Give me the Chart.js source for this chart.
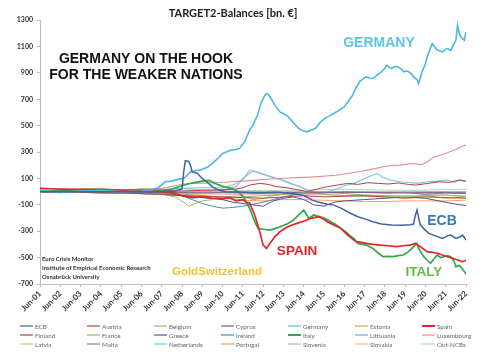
<!DOCTYPE html>
<html>
<head>
<meta charset="utf-8">
<script src="https://cdn.jsdelivr.net/npm/chart.js@4"></script>
<style>
html, body { margin: 0; padding: 0; background: #fff; }
</style>
</head>
<body>
<canvas id="myChart" width="485" height="360"></canvas>
<script>
// DONNEES : mois depuis Jun-01 (0 = Jun-01, 252 = Jun-22) et valeurs en mrd €

var yearM = [0, 12, 24, 36, 48, 60, 72, 84, 96, 108, 120, 132, 144, 156, 168, 180, 192, 204, 216, 228, 240, 252];

var germanyM = [0, 12, 24, 36, 48, 60, 66, 70, 74, 78, 82, 85, 89, 92, 95, 99, 102, 105, 108, 111, 113, 116, 118, 121, 124, 126, 129, 131, 133, 134, 135, 136, 139, 142, 145, 147, 150, 153, 155, 158, 161, 163, 166, 169, 172, 176, 180, 182, 185, 187, 189, 191, 193, 195, 197, 199, 202, 204, 205, 207, 208, 210, 212, 214, 215, 217, 218, 220, 221, 223, 224, 226, 228, 229, 231, 232, 234, 235, 237, 238, 240, 241, 243, 244, 246, 247, 248, 249, 251, 252];
var germanyV = [10, -5, 5, 10, 0, 5, 15, 30, 75, 80, 95, 100, 150, 160, 164, 185, 214, 250, 290, 305, 315, 320, 328, 378, 467, 505, 593, 681, 730, 745, 735, 719, 656, 605, 585, 567, 520, 480, 465, 454, 470, 480, 530, 560, 580, 610, 643, 680, 732, 790, 833, 855, 870, 862, 858, 880, 909, 935, 959, 940, 934, 950, 946, 925, 909, 915, 909, 890, 870, 850, 820, 909, 970, 1022, 1090, 1123, 1090, 1073, 1065, 1060, 1080, 1085, 1070, 1098, 1148, 1262, 1200, 1173, 1148, 1211];

var spainM = [0, 6, 12, 24, 36, 48, 60, 72, 78, 84, 90, 96, 102, 108, 112, 116, 120, 122, 124, 127, 130, 132, 134, 136, 139, 142, 146, 149, 152, 155, 158, 160, 163, 165, 168, 170, 174, 178, 182, 185, 187, 190, 193, 197, 201, 206, 211, 215, 219, 222, 225, 229, 232, 235, 238, 241, 244, 247, 250, 252];
var spainV = [25, 22, 20, 18, 15, 10, 5, 0, -10, -30, -45, -40, -50, -55, -45, -70, -60, -80, -85, -177, -303, -405, -430, -392, -340, -303, -270, -253, -240, -228, -215, -202, -195, -190, -210, -228, -255, -278, -329, -360, -379, -385, -392, -400, -405, -410, -417, -410, -405, -392, -417, -455, -460, -467, -480, -493, -505, -518, -531, -520];

var italyM = [0, 12, 24, 36, 48, 60, 72, 78, 84, 88, 92, 96, 100, 104, 108, 112, 116, 119, 121, 124, 127, 129, 132, 136, 139, 142, 147, 150, 152, 154, 156, 159, 162, 164, 166, 169, 172, 175, 178, 181, 183, 186, 188, 193, 197, 200, 203, 206, 209, 212, 215, 218, 220, 223, 224, 227, 229, 231, 233, 235, 237, 239, 241, 243, 245, 246, 248, 249, 250, 251, 252];
var italyV = [10, 5, 15, 20, 10, 15, 10, 20, 45, 60, 70, 80, 85, 60, 40, 30, 10, -20, -51, -127, -228, -278, -285, -291, -280, -266, -240, -215, -190, -165, -139, -202, -177, -185, -190, -205, -228, -250, -278, -305, -329, -360, -392, -405, -430, -465, -493, -490, -493, -485, -480, -455, -430, -392, -430, -493, -520, -543, -510, -480, -500, -493, -485, -493, -530, -569, -560, -569, -590, -605, -625];

var ecbM = [0, 24, 48, 72, 80, 84, 85, 86, 88, 89, 90, 93, 96, 99, 102, 106, 110, 120, 130, 140, 150, 155, 158, 161, 165, 170, 174, 178, 183, 188, 193, 197, 202, 208, 214, 219, 221, 222, 223, 224, 225, 227, 230, 234, 238, 241, 243, 246, 249, 250, 252];
var ecbV = [0, 0, 0, 0, 5, 20, 150, 235, 230, 200, 150, 140, 100, 70, 37, 10, 0, -5, -10, -5, -15, -25, -40, -64, -80, -95, -102, -125, -160, -190, -210, -228, -245, -253, -255, -250, -245, -180, -139, -200, -253, -280, -316, -335, -354, -335, -329, -354, -340, -329, -367];

var netherlandsM = [0, 24, 48, 72, 84, 96, 108, 116, 120, 124, 126, 128, 132, 136, 142, 148, 154, 158, 162, 166, 170, 174, 180, 186, 192, 196, 199, 203, 207, 213, 219, 223, 229, 235, 241, 245, 248, 252];
var netherlandsV = [5, 10, 10, 15, 25, 30, 30, 60, 100, 140, 155, 150, 130, 113, 90, 63, 35, 12, -10, -13, 0, 12, 45, 63, 100, 120, 139, 110, 88, 75, 70, 63, 75, 80, 88, 70, 90, 75];

var luxembourgM = [0, 24, 48, 72, 80, 86, 96, 106, 120, 140, 160, 175, 183, 190, 198, 205, 213, 220, 226, 229, 233, 238, 242, 246, 250, 252];
var luxembourgV = [5, 10, 15, 25, 45, 60, 65, 70, 80, 100, 110, 125, 140, 155, 175, 195, 201, 214, 205, 225, 264, 280, 300, 320, 345, 353];

var finlandM = [0, 12, 24, 36, 48, 60, 72, 84, 96, 108, 116, 120, 124, 130, 135, 140, 146, 152, 158, 164, 170, 176, 182, 188, 194, 200, 206, 212, 218, 222, 228, 236, 242, 248, 252];
var finlandV = [0, 5, 0, 5, 10, 5, 10, 5, 10, 15, 20, 30, 50, 63, 55, 38, 30, 15, 0, 20, 38, 50, 63, 55, 68, 63, 58, 66, 55, 50, 60, 75, 70, 88, 80];

var belgiumM = [0, 12, 24, 36, 48, 60, 72, 80, 85, 88, 92, 96, 102, 108, 114, 120, 132, 144, 156, 168, 180, 192, 204, 216, 228, 240, 252];
var belgiumV = [0, -3, -5, -8, -10, -15, -20, -40, -80, -110, -90, -70, -60, -40, -50, -40, -30, -20, -10, -20, -30, -35, -40, -45, -30, -50, -40];

var franceM = [0, 12, 24, 36, 48, 60, 72, 84, 96, 108, 120, 126, 132, 138, 144, 156, 168, 180, 192, 204, 216, 228, 240, 252];
var franceV = [5, 0, -5, -5, -10, -10, -15, -20, -30, -40, -30, -60, -50, -30, -20, -10, -5, -15, -25, -30, -40, -30, -25, -40];

var greeceM = [0, 12, 24, 36, 48, 60, 72, 84, 96, 108, 114, 120, 126, 132, 138, 144, 150, 156, 162, 168, 174, 180, 192, 204, 216, 228, 240, 246, 252];
var greeceV = [0, -5, -5, -10, -10, -15, -20, -30, -45, -60, -80, -90, -100, -110, -70, -50, -40, -60, -100, -110, -80, -70, -60, -50, -40, -50, -80, -95, -105];

var irelandM = [0, 12, 24, 36, 48, 60, 72, 84, 90, 96, 102, 108, 114, 120, 126, 132, 138, 144, 150, 156, 168, 180, 192, 204, 216, 228, 240, 252];
var irelandV = [0, -2, 0, -5, -5, -10, -10, -30, -60, -90, -110, -125, -120, -110, -95, -80, -60, -40, -25, -15, -10, 0, -5, -10, -5, -20, -10, -15];

var sloveniaM = [0, 24, 48, 72, 96, 108, 116, 120, 124, 128, 134, 139, 144, 149, 154, 160, 168, 180, 192, 204, 216, 228, 240, 252];
var sloveniaV = [0, -2, -3, -5, 0, 10, 40, 90, 164, 150, 126, 105, 88, 60, 38, 0, -5, -5, -5, -8, -5, -10, -5, -8];

var austriaV = [5, 0, -5, -8, -10, -15, -20, -30, -35, -40, -45, -50, -40, -30, -40, -35, -30, -40, -50, -40, -45, -50];
var cyprusV = [0, 0, -2, -3, -5, -5, -5, -8, -10, -8, -10, -12, -8, -5, -5, -8, -6, -8, -10, -8, -8, -10];
var estoniaV = [0, 0, -2, -2, -3, -3, -4, -5, -5, -4, -3, -2, -3, -4, -5, -4, -3, -4, -5, -4, -3, -4];
var lithuaniaV = [0, -1, -2, -3, -4, -5, -6, -8, -8, -6, -5, -4, -5, -6, -8, -6, -4, -5, -6, -5, -4, -5];
var latviaV = [0, 0, -1, -2, -3, -4, -5, -6, -6, -5, -4, -4, -5, -6, -6, -5, -4, -5, -6, -5, -4, -4];
var maltaV = [0, 0, 0, -1, -2, -2, -3, -4, -4, -3, -3, -2, -3, -4, -3, -2, -3, -4, -3, -2, -3, -3];
var portugalV = [0, -2, -3, -5, -5, -10, -15, -20, -30, -50, -65, -70, -60, -60, -65, -70, -75, -75, -70, -70, -70, -65];
var slovakiaV = [0, -2, -4, -6, -8, -10, -12, -15, -18, -20, -22, -25, -22, -20, -25, -28, -30, -28, -30, -25, -28, -30];
var outNcbV = [10, 10, 12, 12, 15, 15, 18, 20, 15, 12, 10, 8, 10, 12, 15, 18, 15, 12, 10, 12, 15, 18];

function pts(m, v) {
    var out = [];
    for (var i = 0; i < m.length; i++) {
        out.push({ x: m[i], y: v[i] });
    }
    return out;
}

function serie(label, color, data, width, order) {
    return {
        label: label,
        data: data,
        borderColor: color,
        backgroundColor: color,
        borderWidth: width,
        pointRadius: 0,
        tension: 0,
        order: order
    };
}

// TEXTES SUR LE GRAPHIQUE

var notesPlugin = {
    id: 'notes',
    afterDatasetsDraw: function(chart) {
        var ctx = chart.ctx;
        ctx.save();
        ctx.textAlign = 'center';
        ctx.textBaseline = 'middle';
        ctx.fillStyle = '#111';
        ctx.font = 'bold 14px "Liberation Sans", Arial, sans-serif';
        ctx.fillText('GERMANY ON THE HOOK', 146, 59);
        ctx.fillText('FOR THE WEAKER NATIONS', 146, 75);
        ctx.fillStyle = '#62c3e8';
        ctx.fillText('GERMANY', 379, 43);
        ctx.fillStyle = '#3a78b8';
        ctx.fillText('ECB', 442, 221);
        ctx.fillStyle = '#e4232b';
        ctx.font = 'bold 13.5px "Liberation Sans", Arial, sans-serif';
        ctx.fillText('SPAIN', 297, 251);
        ctx.fillStyle = '#62bb45';
        ctx.fillText('ITALY', 424, 272);
        ctx.fillStyle = '#f2c232';
        ctx.font = 'bold 11.5px "Liberation Sans", Arial, sans-serif';
        ctx.fillText('GoldSwitzerland', 217, 272);
        ctx.textAlign = 'left';
        ctx.fillStyle = '#333';
        ctx.font = 'bold 6px Lato, sans-serif';
        ctx.fillText('Euro Crisis Monitor', 42, 259);
        ctx.fillText('Institute of Empirical Economic Research', 42, 268);
        ctx.fillText('Osnabrück University', 42, 277);
        ctx.restore();
    }
};

// LEGENDE EN GRILLE 7 COLONNES

var gridLegend = {
    id: 'gridLegend',
    afterDraw: function(chart) {
        var ctx = chart.ctx;
        ctx.save();
        ctx.font = '6.3px Lato, sans-serif';
        ctx.textBaseline = 'middle';
        ctx.textAlign = 'left';
        chart.data.datasets.forEach(function(ds, i) {
            var x = 20 + (i % 7) * 67;
            var y = 326 + Math.floor(i / 7) * 9;
            ctx.strokeStyle = ds.borderColor;
            ctx.lineWidth = ds.label == 'Spain' || ds.label == 'Italy' ? 2 : 1.2;
            ctx.beginPath();
            ctx.moveTo(x, y);
            ctx.lineTo(x + 13, y);
            ctx.stroke();
            ctx.fillStyle = '#666';
            ctx.fillText(ds.label, x + 15, y + 0.5);
        });
        ctx.restore();
    }
};

new Chart(document.getElementById('myChart'), {
    type: 'line',
    data: {
        datasets: [
            serie('ECB', '#3f62a3', pts(ecbM, ecbV), 1.5, 0),
            serie('Austria', '#b8434a', pts(yearM, austriaV), 1, 1),
            serie('Belgium', '#9bbb59', pts(belgiumM, belgiumV), 1, 1),
            serie('Cyprus', '#7a5f9c', pts(yearM, cyprusV), 1, 1),
            serie('Germany', '#4cb9df', pts(germanyM, germanyV), 1.6, 0),
            serie('Estonia', '#d9a25a', pts(yearM, estoniaV), 1, 1),
            serie('Spain', '#e4232b', pts(spainM, spainV), 1.7, 0),
            serie('Finland', '#b0403f', pts(finlandM, finlandV), 1, 1),
            serie('France', '#98b85e', pts(franceM, franceV), 1, 1),
            serie('Greece', '#5f4b8b', pts(greeceM, greeceV), 1, 1),
            serie('Ireland', '#3a93b0', pts(irelandM, irelandV), 1, 1),
            serie('Italy', '#2eaa46', pts(italyM, italyV), 1.7, 0),
            serie('Lithuania', '#7ea6d6', pts(yearM, lithuaniaV), 1, 1),
            serie('Luxembourg', '#e0918c', pts(luxembourgM, luxembourgV), 1.1, 1),
            serie('Latvia', '#a8d06a', pts(yearM, latviaV), 1, 1),
            serie('Malta', '#8a78b8', pts(yearM, maltaV), 1, 1),
            serie('Netherlands', '#78c6dc', pts(netherlandsM, netherlandsV), 1.1, 1),
            serie('Portugal', '#f5a65c', pts(yearM, portugalV), 1, 1),
            serie('Slovenia', '#b4aedc', pts(sloveniaM, sloveniaV), 1.1, 1),
            serie('Slovakia', '#f0b8a0', pts(yearM, slovakiaV), 1, 1),
            serie('Out-NCBs', '#a8d8c8', pts(yearM, outNcbV), 1, 1)
        ]
    },
    options: {
        responsive: false,
        animation: false,
        layout: { padding: { left: 0, right: 19, top: 0, bottom: 0 } },
        plugins: {
            legend: { display: false },
            tooltip: { enabled: false },
            title: {
                display: true,
                text: 'TARGET2-Balances [bn. €]',
                color: '#222',
                font: { family: 'Lato', size: 11, weight: 'bold' },
                padding: { top: 7, bottom: 0 }
            }
        },
        scales: {
            x: {
                type: 'linear',
                min: 0,
                max: 252,
                afterFit: function(scale) { scale.height = 76; },
                grid: { drawOnChartArea: false, tickLength: 3, color: '#bbb' },
                border: { color: '#bbb' },
                ticks: {
                    stepSize: 12,
                    autoSkip: false,
                    maxRotation: 45,
                    minRotation: 45,
                    padding: 2,
                    color: '#333',
                    font: { family: 'Lato', size: 8, weight: 'bold' },
                    callback: function(v) {
                        var y = 1 + Math.round(v / 12);
                        return 'Jun-' + (y < 10 ? '0' + y : y);
                    }
                }
            },
            y: {
                min: -700,
                max: 1300,
                afterFit: function(scale) { scale.width = 40; },
                grid: { drawOnChartArea: false, tickLength: 3, color: '#bbb' },
                border: { color: '#bbb' },
                ticks: {
                    stepSize: 200,
                    padding: 4,
                    color: '#333',
                    font: { family: 'Lato', size: 7, weight: 'bold' },
                    callback: function(v) { return String(v); }
                }
            }
        }
    },
    plugins: [notesPlugin, gridLegend]
});
</script>
</body>
</html>
